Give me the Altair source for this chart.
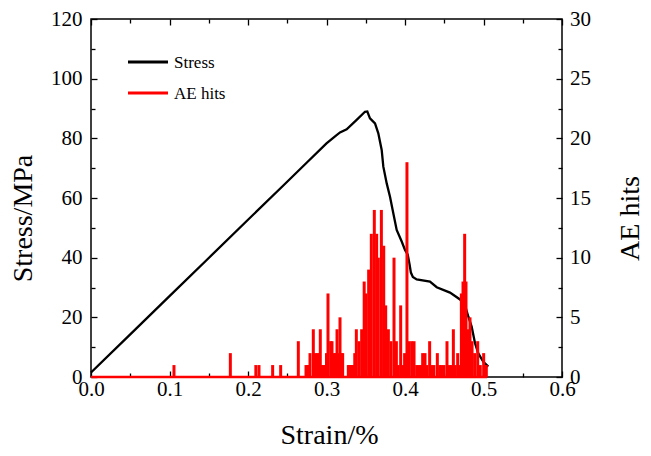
import altair as alt
import pandas as pd

# ---------------- data ----------------
stress_strain = [0.0, 0.05, 0.1, 0.15, 0.2, 0.245, 0.275, 0.3,
                 0.3105, 0.3172, 0.3257, 0.3384, 0.349, 0.352, 0.3554, 0.3618, 0.366,
                 0.3703, 0.3724, 0.3767, 0.3809, 0.3851, 0.3894, 0.3958, 0.4, 0.4035,
                 0.406, 0.4075, 0.41, 0.4149, 0.4318, 0.4404, 0.4573, 0.4701, 0.4764,
                 0.4807, 0.4849, 0.4892, 0.4934, 0.4998, 0.5061]
stress_mpa = [1.5, 14.3, 27.1, 39.9, 52.7, 64.2, 71.9, 78.3,
              80.6, 82.0, 83.0, 86.2, 88.9, 89.0, 86.7, 85.0, 81.7,
              76.1, 70.5, 64.9, 60.4, 54.9, 49.3, 45.4, 42.6, 41.0,
              37.5, 35.0, 33.5, 32.7, 32.0, 30.1, 28.3, 26.0, 24.1,
              20.2, 16.9, 11.3, 7.9, 5.1, 3.5]

ae_strain = [0.0, 0.1057, 0.1775, 0.2100, 0.2140, 0.2314, 0.2416, 0.2641, 0.2739, 0.2756,
             0.2775, 0.2790, 0.2832, 0.2858, 0.2883, 0.2905, 0.2921, 0.2940, 0.2960, 0.2981,
             0.3000, 0.3019, 0.3053, 0.3070, 0.3096, 0.3115, 0.3134, 0.3152, 0.3172, 0.3190,
             0.3206, 0.3278, 0.3293, 0.3308, 0.3325, 0.3342, 0.3360, 0.3380, 0.3414, 0.3448,
             0.3480, 0.3503, 0.3537, 0.3571, 0.3609, 0.3639, 0.3660, 0.3699, 0.3729, 0.3754,
             0.3788, 0.3822, 0.3860, 0.3890, 0.3915, 0.3945, 0.3975, 0.3995, 0.4025, 0.4051,
             0.4085, 0.4115, 0.4149, 0.4178, 0.4204, 0.4225, 0.4255, 0.4280, 0.4314, 0.4340,
             0.4369, 0.4412, 0.4442, 0.4467, 0.4497, 0.4535, 0.4565, 0.4590, 0.4616, 0.4641,
             0.4671, 0.4697, 0.4718, 0.4739, 0.4760, 0.4777, 0.4798, 0.4828, 0.4854, 0.4887,
             0.4926, 0.4959, 0.5002, 0.5036, 0.5045]
ae_hits = [0, 1, 2, 1, 1, 1, 1, 3, 1, 1,
           1, 2, 4, 2, 2, 2, 4, 1, 1, 1,
           2, 7, 3, 3, 2, 2, 4, 2, 5, 2,
           2, 1, 1, 1, 1, 1, 2, 4, 3, 4,
           8, 7, 9, 12, 14, 12, 10, 14, 11, 6,
           4, 3, 10, 3, 1, 6, 1, 2, 18, 3,
           3, 3, 1, 1, 1, 2, 2, 1, 3, 1,
           1, 2, 1, 1, 1, 3, 1, 1, 4, 1,
           2, 1, 7, 8, 12, 8, 4, 5, 3, 2,
           3, 1, 2, 1, 0]

x_major = [0.0, 0.1, 0.2, 0.3, 0.4, 0.5, 0.6]
x_minor = [0.05, 0.15, 0.25, 0.35, 0.45, 0.55]
y_major = [0, 20, 40, 60, 80, 100, 120]
y_minor = [10, 30, 50, 70, 90, 110]
ae_major = [0, 5, 10, 15, 20, 25, 30]
ae_minor = [2.5, 7.5, 12.5, 17.5, 22.5, 27.5]
legend_labels = ["Stress", "AE hits"]

stress_df = pd.DataFrame({"strain": stress_strain, "stress": stress_mpa})
ae_df = pd.DataFrame({"strain": ae_strain, "hits": ae_hits})

FONT = "Liberation Serif"
MAJ = 6
MIN = 4

xs = alt.Scale(domain=[0, 0.6], nice=False, zero=False)
ys = alt.Scale(domain=[0, 120], nice=False)
aes = alt.Scale(domain=[0, 30], nice=False)

# ---------------- stress group ----------------
stress_line = alt.Chart(stress_df).mark_line(color="black", strokeWidth=2.3).encode(
    x=alt.X("strain:Q", scale=xs,
            axis=alt.Axis(orient="bottom", values=x_major, tickSize=MAJ, offset=-MAJ,
                          labelPadding=1.5, format=".1f", title="Strain/%",
                          titleX=238, titleY=72, titleBaseline="alphabetic",
                          titleAlign="center")),
    y=alt.Y("stress:Q", scale=ys,
            axis=alt.Axis(orient="left", values=y_major, tickSize=MAJ, offset=-MAJ,
                          labelPadding=9, title="Stress/MPa",
                          titleX=-65.5, titleY=199, titleAngle=270,
                          titleBaseline="alphabetic", titleAlign="center")),
)

minor_bl = alt.Chart(stress_df).mark_point(opacity=0).encode(
    x=alt.X("strain:Q", scale=xs,
            axis=alt.Axis(orient="bottom", values=x_minor, tickSize=MIN, offset=-MIN,
                          labels=False, title=None)),
    y=alt.Y("stress:Q", scale=ys,
            axis=alt.Axis(orient="left", values=y_minor, tickSize=MIN, offset=-MIN,
                          labels=False, title=None)),
)

top_major = alt.Chart(stress_df).mark_point(opacity=0).encode(
    x=alt.X("strain:Q", scale=xs,
            axis=alt.Axis(orient="top", values=x_major, tickSize=MAJ, offset=-MAJ,
                          labels=False, title=None)),
    y=alt.Y("stress:Q", scale=ys, axis=None),
)

top_minor = alt.Chart(stress_df).mark_point(opacity=0).encode(
    x=alt.X("strain:Q", scale=xs,
            axis=alt.Axis(orient="top", values=x_minor, tickSize=MIN, offset=-MIN,
                          labels=False, title=None)),
    y=alt.Y("stress:Q", scale=ys, axis=None),
)

left = alt.layer(stress_line, minor_bl, top_major, top_minor).resolve_axis(
    x="independent", y="independent")

# ---------------- AE group ----------------
ae_base = alt.Chart(ae_df).mark_rule(color="#ff0000", strokeWidth=2.4).encode(
    x=alt.X("min(strain):Q", scale=xs, axis=None),
    x2="max(strain):Q",
    y=alt.Y("min(hits):Q", scale=aes, axis=None),
)

ae_rules = alt.Chart(ae_df).mark_rule(color="#ff0000", strokeWidth=3).encode(
    x=alt.X("strain:Q", scale=xs, axis=None),
    y=alt.Y("hits:Q", scale=aes,
            axis=alt.Axis(orient="right", values=ae_major, tickSize=MAJ, offset=-MAJ,
                          labelPadding=7.5, title="AE hits",
                          titleX=82, titleY=199, titleAngle=270,
                          titleBaseline="alphabetic", titleAlign="center")),
    y2=alt.datum(0),
)

ae_minor_layer = alt.Chart(ae_df).mark_point(opacity=0).encode(
    x=alt.X("strain:Q", scale=xs, axis=None),
    y=alt.Y("hits:Q", scale=aes,
            axis=alt.Axis(orient="right", values=ae_minor, tickSize=MIN, offset=-MIN,
                          labels=False, title=None)),
)

right = alt.layer(ae_base, ae_rules, ae_minor_layer).resolve_axis(y="independent")

# ---------------- legend ----------------
leg1 = pd.DataFrame({"label": [legend_labels[0]]})
leg2 = pd.DataFrame({"label": [legend_labels[1]]})
leg_line1 = alt.Chart(leg1).mark_rule(color="black", strokeWidth=3).encode(
    x=alt.value(37), x2=alt.value(77), y=alt.value(43))
leg_text1 = alt.Chart(leg1).mark_text(align="left", baseline="middle", font=FONT,
                                       fontSize=17, color="black").encode(
    x=alt.value(83), y=alt.value(44.2), text="label:N")
leg_line2 = alt.Chart(leg2).mark_rule(color="#ff0000", strokeWidth=3).encode(
    x=alt.value(37), x2=alt.value(77), y=alt.value(74))
leg_text2 = alt.Chart(leg2).mark_text(align="left", baseline="middle", font=FONT,
                                       fontSize=17, color="black").encode(
    x=alt.value(83), y=alt.value(75.2), text="label:N")

chart = alt.layer(left, right, leg_line1, leg_text1, leg_line2, leg_text2).resolve_scale(
    y="independent").resolve_axis(x="independent", y="independent").properties(
    width=471, height=358,
    autosize=alt.AutoSizeParams(type="none"),
    padding={"left": 83, "top": 11, "right": 81, "bottom": 71},
).configure_view(stroke="black", strokeWidth=1.5).configure_axis(
    labelFont=FONT, labelFontSize=21, labelColor="black",
    titleFont=FONT, titleFontSize=28, titleFontWeight="normal", titleColor="black",
    tickColor="black", tickWidth=1.3, grid=False, domain=False,
    labelOverlap=False, labelFlush=False,
)

chart.save("out.html", embed_options={"renderer": "svg", "actions": False})
